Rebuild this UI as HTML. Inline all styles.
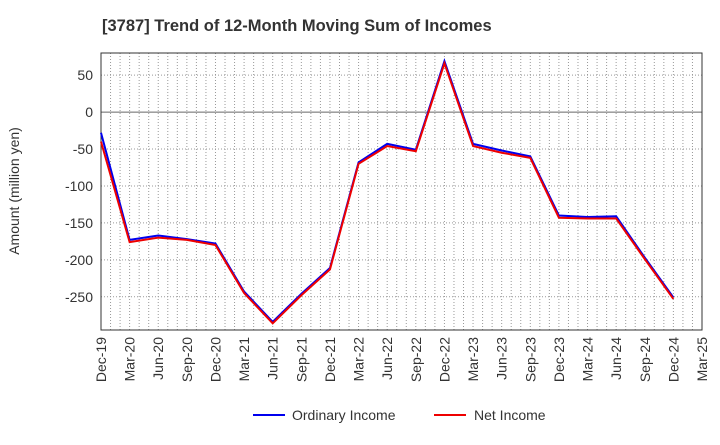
<!DOCTYPE html>
<html><head><meta charset="utf-8"><style>
body{margin:0;background:#fff;font-family:"Liberation Sans",sans-serif}
</style></head><body>
<svg id="chart" width="720" height="440" xmlns="http://www.w3.org/2000/svg">
<text x="102" y="31" font-size="16.5" font-weight="bold" fill="#333">[3787]  Trend of 12-Month Moving Sum of Incomes</text>
<g id="grid"></g><g id="axes"></g><g id="series"></g>
<text transform="translate(19,191) rotate(-90)" text-anchor="middle" font-size="14" fill="#333">Amount (million yen)</text>
<g>
<line x1="253" y1="415" x2="285" y2="415" stroke="#0000ee" stroke-width="2"/>
<text x="292" y="420" font-size="14" fill="#333">Ordinary Income</text>
<line x1="434" y1="415" x2="466" y2="415" stroke="#ee0000" stroke-width="2"/>
<text x="474" y="420" font-size="14" fill="#333">Net Income</text>
</g>
</svg>
<script>
const categories=["Dec-19","Mar-20","Jun-20","Sep-20","Dec-20","Mar-21","Jun-21","Sep-21","Dec-21","Mar-22","Jun-22","Sep-22","Dec-22","Mar-23","Jun-23","Sep-23","Dec-23","Mar-24","Jun-24","Sep-24","Dec-24","Mar-25"];
const ordinaryIncome=[-28,-173,-167,-172,-178,-243,-284,-246,-211,-68,-43,-51,69,-43,-52,-60,-140,-142,-141,-197,-251];
const netIncome=[-40,-176,-170,-173,-180,-245,-286,-248,-213,-70,-46,-53,66,-46,-55,-62,-143,-144,-144,-199,-253];
const yTicks=[50,0,-50,-100,-150,-200,-250];
const NS="http://www.w3.org/2000/svg";
const L=101,R=702,T=53,B=330,yMin=-295,yMax=80;
const x=i=>L+(R-L)*i/(categories.length-1);
const y=v=>T+(yMax-v)/(yMax-yMin)*(B-T);
function mk(tag,attrs,parent){const e=document.createElementNS(NS,tag);for(const k in attrs)e.setAttribute(k,attrs[k]);parent.appendChild(e);return e;}
const grid=document.getElementById('grid'),axes=document.getElementById('axes'),series=document.getElementById('series');
for(let m=1;m<(categories.length-1)*3;m++){const xx=L+(R-L)*m/((categories.length-1)*3);
 const g=mk('line',{x1:xx,x2:xx,y1:T,y2:B,stroke:'#999','stroke-dasharray':'1,2'},grid);
 
 }
yTicks.forEach(v=>{const yy=y(v);
 const g=mk('line',{x1:L,x2:R,y1:yy,y2:yy,stroke:v===0?'#666':'#999','stroke-dasharray':v===0?'none':'1,2'},grid);
 
 
 const t=mk('text',{x:L-8,y:yy+5,'text-anchor':'end','font-size':14,fill:'#333'},axes);t.textContent=v;
 
 });
const fr=mk('rect',{x:L,y:T,width:R-L,height:B-T,fill:'none',stroke:'#333'},axes);


categories.forEach((c,i)=>{const xx=x(i);
 const t=mk('text',{transform:`translate(${xx+5},${B+7}) rotate(-90)`,'text-anchor':'end','font-size':14,fill:'#333'},axes);t.textContent=c;
 
 });
function line(data,color,name){const p=mk('polyline',{points:data.map((v,i)=>x(i)+','+y(v)).join(' '),fill:'none',stroke:color,'stroke-width':2},series);
 
 }
line(ordinaryIncome,'#0000ee','ordinary-income-line');
line(netIncome,'#ee0000','net-income-line');
</script>
</body></html>
